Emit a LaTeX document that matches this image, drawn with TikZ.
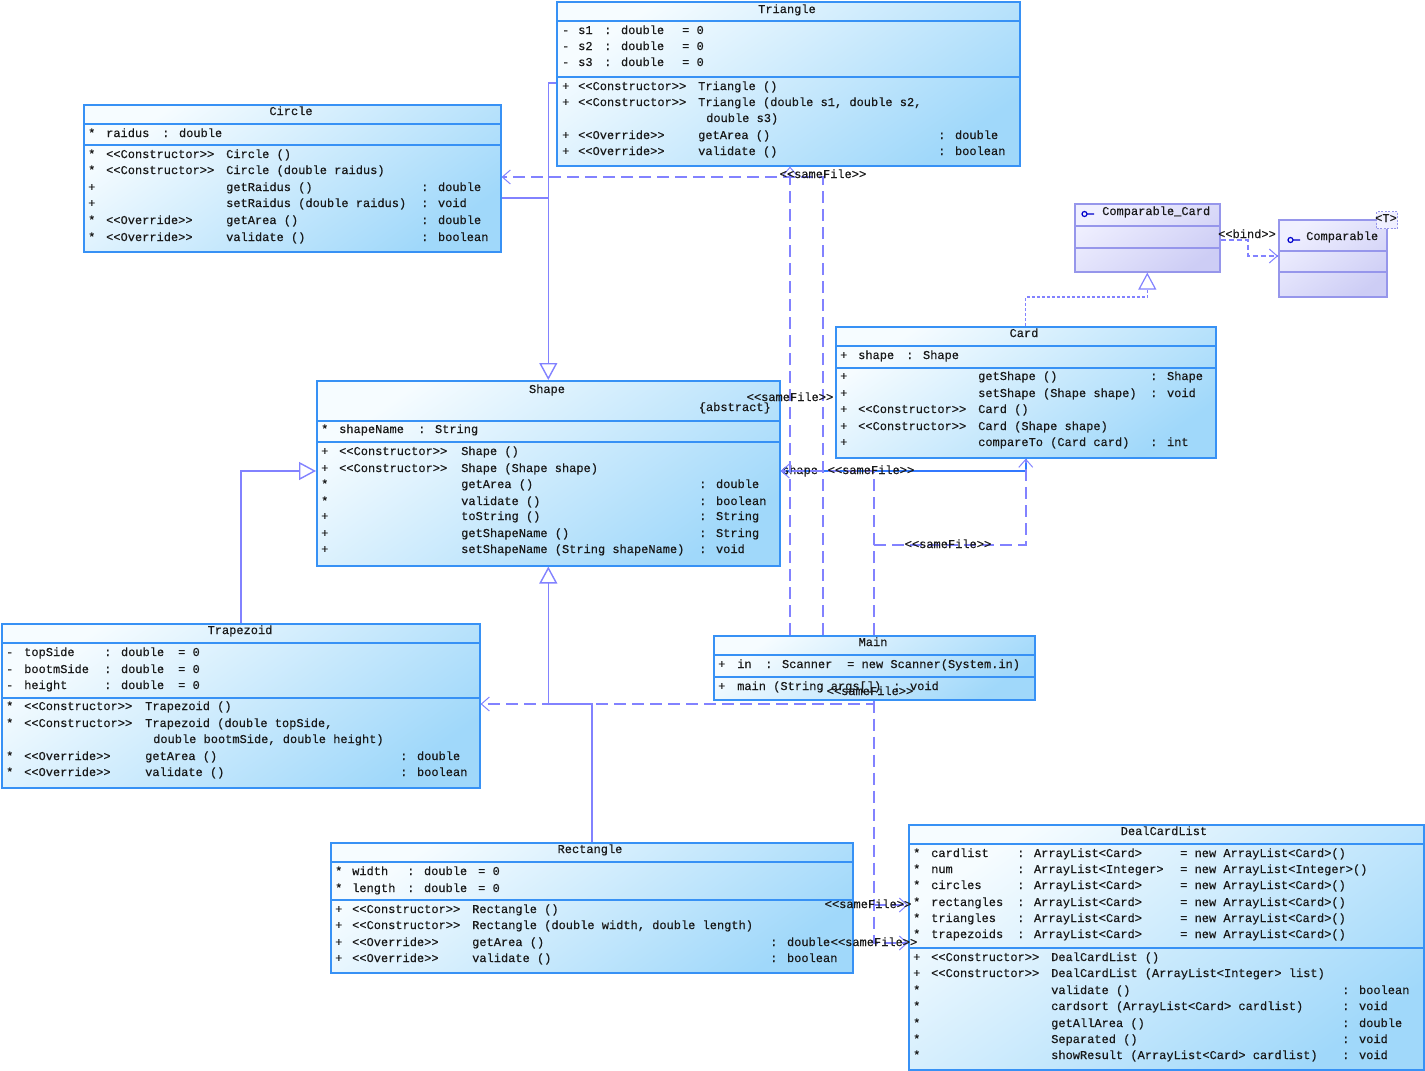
\documentclass[tikz,border=0pt]{standalone}
\usepackage{fontspec}
\newfontfamily\umlmono{Liberation Mono}[FakeBold=0.4]
\usetikzlibrary{arrows.meta}
\definecolor{clsB}{RGB}{55,145,245}
\definecolor{clsT}{RGB}{246,252,255}
\definecolor{clsD}{RGB}{160,216,250}
\definecolor{ifB}{RGB}{150,150,235}
\definecolor{ifT}{RGB}{240,240,255}
\definecolor{ifD}{RGB}{205,205,245}
\definecolor{con}{RGB}{130,130,255}
\definecolor{asc}{RGB}{50,120,255}
\definecolor{ink}{RGB}{25,25,25}
\newcounter{tn}
\newcommand{\tx}[3]{\stepcounter{tn}\node[txt] (t\arabic{tn}) at (#1,#2) {#3};}
\newcommand{\tcn}[3]{\stepcounter{tn}\node[txt,anchor=center] (t\arabic{tn}) at (#1,#2) {#3};}
\newcommand{\tre}[3]{\stepcounter{tn}\node[txt,anchor=east] (t\arabic{tn}) at (#1,#2) {#3};}
\newcommand{\sepl}[2]{\draw[seprule] (#1.west |- 0,#2) -- (#1.east |- 0,#2);}
\newcommand{\isepl}[2]{\draw[iseprule] (#1.west |- 0,#2) -- (#1.east |- 0,#2);}
\begin{document}
\begin{tikzpicture}[x=1pt,y=-1pt,
  txt/.style={font=\umlmono\fontsize{12}{14}\selectfont, text=ink, anchor=west, inner sep=0pt, text height=8.5pt, text depth=2.5pt},
  cls/.style={draw=clsB, line width=1.6pt, top color=clsT, bottom color=clsD, shading angle=35, anchor=north west, inner sep=0pt},
  icls/.style={draw=ifB, line width=1.6pt, top color=ifT, bottom color=ifD, shading angle=35, anchor=north west, inner sep=0pt},
  seprule/.style={draw=clsB, line width=1.5pt},
  iseprule/.style={draw=ifB, line width=1.5pt},
  gen/.style={draw=con, line width=1.4pt, -{Triangle[length=17pt,width=18pt,fill=white]}},
  solidc/.style={draw=con, line width=1.4pt},
  dep/.style={draw=con, line width=1.8pt, dash pattern=on 12pt off 6pt, -{Straight Barb[length=8pt,width=14pt,line width=1pt]}},
  real/.style={draw=con, line width=1.2pt, dash pattern=on 3pt off 2pt, -{Triangle[length=17pt,width=18pt,fill=white,line width=1.2pt]}},
  ascl/.style={draw=asc, line width=1.6pt, -{Straight Barb[length=5pt,width=8pt]}},
  icon/.style={draw=blue!80!black, line width=1.2pt}
]
\useasboundingbox (0,0) rectangle (1425,1071);

% ---------------- class boxes ----------------
\node[cls, minimum width=463pt, minimum height=164pt] (tri) at (556,1) {};
\sepl{tri}{21}\sepl{tri}{77}
\node[cls, minimum width=417pt, minimum height=147pt] (cir) at (83,104) {};
\sepl{cir}{124}\sepl{cir}{145}
\node[icls, minimum width=145pt, minimum height=68pt] (cc) at (1074,203) {};
\isepl{cc}{226}\isepl{cc}{248}
\node[icls, minimum width=108pt, minimum height=77pt] (cmp) at (1278,219) {};
\isepl{cmp}{251}\isepl{cmp}{272}
\node[draw=ifB, fill=ifT, line width=1pt, dash pattern=on 2pt off 1.5pt, minimum width=21pt, minimum height=17pt, anchor=north west, inner sep=0pt] (tpar) at (1376,211) {};
\node[cls, minimum width=380pt, minimum height=131pt] (card) at (835,326) {};
\sepl{card}{346}\sepl{card}{368}
\node[cls, minimum width=463pt, minimum height=185pt] (shp) at (316,380) {};
\sepl{shp}{421}\sepl{shp}{442}
\node[cls, minimum width=478pt, minimum height=164pt] (trap) at (1,623) {};
\sepl{trap}{643}\sepl{trap}{698}
\node[cls, minimum width=321pt, minimum height=64pt] (main) at (713,635) {};
\sepl{main}{655}\sepl{main}{677}
\node[cls, minimum width=522pt, minimum height=130pt] (rect) at (330,842) {};
\sepl{rect}{862}\sepl{rect}{900}
\node[cls, minimum width=515pt, minimum height=245pt] (dcl) at (908,824) {};
\sepl{dcl}{844}\sepl{dcl}{948}

% ---------------- Triangle ----------------
\tcn{787}{10}{Triangle}
\tx{562}{31}{-}\tx{578}{31}{s1}\tx{604}{31}{: double}\tx{682}{31}{= 0}
\tx{562}{47}{-}\tx{578}{47}{s2}\tx{604}{47}{: double}\tx{682}{47}{= 0}
\tx{562}{63}{-}\tx{578}{63}{s3}\tx{604}{63}{: double}\tx{682}{63}{= 0}
\tx{562}{87}{+}\tx{578}{87}{<<Constructor>>}\tx{698}{87}{Triangle ()}
\tx{562}{103}{+}\tx{578}{103}{<<Constructor>>}\tx{698}{103}{Triangle (double s1, double s2,}
\tx{706}{119}{double s3)}
\tx{562}{136}{+}\tx{578}{136}{<<Override>>}\tx{698}{136}{getArea ()}\tx{938}{136}{: double}
\tx{562}{152}{+}\tx{578}{152}{<<Override>>}\tx{698}{152}{validate ()}\tx{938}{152}{: boolean}

% ---------------- Circle ----------------
\tcn{291}{112}{Circle}
\tx{88}{134}{*}\tx{106}{134}{raidus}\tx{162}{134}{: double}
\tx{88}{155}{*}\tx{106}{155}{<<Constructor>>}\tx{226}{155}{Circle ()}
\tx{88}{171}{*}\tx{106}{171}{<<Constructor>>}\tx{226}{171}{Circle (double raidus)}
\tx{88}{188}{+}\tx{226}{188}{getRaidus ()}\tx{421}{188}{: double}
\tx{88}{204}{+}\tx{226}{204}{setRaidus (double raidus)}\tx{421}{204}{: void}
\tx{88}{221}{*}\tx{106}{221}{<<Override>>}\tx{226}{221}{getArea ()}\tx{421}{221}{: double}
\tx{88}{238}{*}\tx{106}{238}{<<Override>>}\tx{226}{238}{validate ()}\tx{421}{238}{: boolean}

% ---------------- Comparable_Card / Comparable ----------------
\draw[icon] (1084.5,214) circle (2.5pt) (1087,214) -- (1094,214);
\tx{1102}{212}{Comparable\_Card}
\draw[icon] (1290.5,240) circle (2.5pt) (1293,240) -- (1300,240);
\tx{1306}{237}{Comparable}
\tcn{1386}{219}{<T>}

% ---------------- Card ----------------
\tcn{1024}{334}{Card}
\tx{840}{356}{+}\tx{858}{356}{shape}\tx{906}{356}{: Shape}
\tx{840}{377}{+}\tx{978}{377}{getShape ()}\tx{1150}{377}{: Shape}
\tx{840}{394}{+}\tx{978}{394}{setShape (Shape shape)}\tx{1150}{394}{: void}
\tx{840}{410}{+}\tx{858}{410}{<<Constructor>>}\tx{978}{410}{Card ()}
\tx{840}{427}{+}\tx{858}{427}{<<Constructor>>}\tx{978}{427}{Card (Shape shape)}
\tx{840}{443}{+}\tx{978}{443}{compareTo (Card card)}\tx{1150}{443}{: int}

% ---------------- Shape ----------------
\tcn{547}{390}{Shape}
\tre{771}{408}{\{abstract\}}
\tx{321}{430}{*}\tx{339}{430}{shapeName}\tx{418}{430}{: String}
\tx{321}{452}{+}\tx{339}{452}{<<Constructor>>}\tx{461}{452}{Shape ()}
\tx{321}{469}{+}\tx{339}{469}{<<Constructor>>}\tx{461}{469}{Shape (Shape shape)}
\tx{321}{485}{*}\tx{461}{485}{getArea ()}\tx{699}{485}{: double}
\tx{321}{502}{*}\tx{461}{502}{validate ()}\tx{699}{502}{: boolean}
\tx{321}{517}{+}\tx{461}{517}{toString ()}\tx{699}{517}{: String}
\tx{321}{534}{+}\tx{461}{534}{getShapeName ()}\tx{699}{534}{: String}
\tx{321}{550}{+}\tx{461}{550}{setShapeName (String shapeName)}\tx{699}{550}{: void}

% ---------------- Trapezoid ----------------
\tcn{240}{631}{Trapezoid}
\tx{6}{653}{-}\tx{24}{653}{topSide}\tx{104}{653}{: double}\tx{178}{653}{= 0}
\tx{6}{670}{-}\tx{24}{670}{bootmSide}\tx{104}{670}{: double}\tx{178}{670}{= 0}
\tx{6}{686}{-}\tx{24}{686}{height}\tx{104}{686}{: double}\tx{178}{686}{= 0}
\tx{6}{707}{*}\tx{24}{707}{<<Constructor>>}\tx{145}{707}{Trapezoid ()}
\tx{6}{724}{*}\tx{24}{724}{<<Constructor>>}\tx{145}{724}{Trapezoid (double topSide,}
\tx{153}{740}{double bootmSide, double height)}
\tx{6}{757}{*}\tx{24}{757}{<<Override>>}\tx{145}{757}{getArea ()}\tx{400}{757}{: double}
\tx{6}{773}{*}\tx{24}{773}{<<Override>>}\tx{145}{773}{validate ()}\tx{400}{773}{: boolean}

% ---------------- Main ----------------
\tcn{873}{643}{Main}
\tx{718}{665}{+}\tx{737}{665}{in}\tx{765}{665}{: Scanner}\tx{847}{665}{= new Scanner(System.in)}
\tx{718}{687}{+}\tx{737}{687}{main (String args[])}\tx{893}{687}{: void}

% ---------------- Rectangle ----------------
\tcn{590}{850}{Rectangle}
\tx{335}{872}{*}\tx{352}{872}{width}\tx{407}{872}{: double}\tx{478}{872}{= 0}
\tx{335}{889}{*}\tx{352}{889}{length}\tx{407}{889}{: double}\tx{478}{889}{= 0}
\tx{335}{910}{+}\tx{352}{910}{<<Constructor>>}\tx{472}{910}{Rectangle ()}
\tx{335}{926}{+}\tx{352}{926}{<<Constructor>>}\tx{472}{926}{Rectangle (double width, double length)}
\tx{335}{943}{+}\tx{352}{943}{<<Override>>}\tx{472}{943}{getArea ()}\tx{770}{943}{: double}
\tx{335}{959}{+}\tx{352}{959}{<<Override>>}\tx{472}{959}{validate ()}\tx{770}{959}{: boolean}

% ---------------- DealCardList ----------------
\tcn{1164}{832}{DealCardList}
\tx{913}{854}{*}\tx{931}{854}{cardlist}\tx{1017}{854}{: ArrayList<Card>}\tx{1180}{854}{= new ArrayList<Card>()}
\tx{913}{870}{*}\tx{931}{870}{num}\tx{1017}{870}{: ArrayList<Integer>}\tx{1180}{870}{= new ArrayList<Integer>()}
\tx{913}{886}{*}\tx{931}{886}{circles}\tx{1017}{886}{: ArrayList<Card>}\tx{1180}{886}{= new ArrayList<Card>()}
\tx{913}{903}{*}\tx{931}{903}{rectangles}\tx{1017}{903}{: ArrayList<Card>}\tx{1180}{903}{= new ArrayList<Card>()}
\tx{913}{919}{*}\tx{931}{919}{triangles}\tx{1017}{919}{: ArrayList<Card>}\tx{1180}{919}{= new ArrayList<Card>()}
\tx{913}{935}{*}\tx{931}{935}{trapezoids}\tx{1017}{935}{: ArrayList<Card>}\tx{1180}{935}{= new ArrayList<Card>()}
\tx{913}{958}{+}\tx{931}{958}{<<Constructor>>}\tx{1051}{958}{DealCardList ()}
\tx{913}{974}{+}\tx{931}{974}{<<Constructor>>}\tx{1051}{974}{DealCardList (ArrayList<Integer> list)}
\tx{913}{991}{*}\tx{1051}{991}{validate ()}\tx{1342}{991}{: boolean}
\tx{913}{1007}{*}\tx{1051}{1007}{cardsort (ArrayList<Card> cardlist)}\tx{1342}{1007}{: void}
\tx{913}{1024}{*}\tx{1051}{1024}{getAllArea ()}\tx{1342}{1024}{: double}
\tx{913}{1040}{*}\tx{1051}{1040}{Separated ()}\tx{1342}{1040}{: void}
\tx{913}{1056}{*}\tx{1051}{1056}{showResult (ArrayList<Card> cardlist)}\tx{1342}{1056}{: void}

% ---------------- generalizations ----------------
\draw[gen] (tri.west |- 0,83) -| (shp.north);
\draw[solidc] (cir.east |- 0,198) -- (shp.north |- 0,198);
\draw[gen] (trap.north) |- (shp.west |- 0,471);
\draw[gen] (rect.north) |- (shp.south |- 0,704) -- (shp.south);
\draw[real] (card.north) |- (cc.south |- 0,297) -- (cc.south);

% ---------------- bind ----------------
\coordinate (bk) at (1248,240);
\draw[dep, line width=1.2pt, dash pattern=on 5pt off 3pt] (cc.east |- bk) -- (bk) |- (cmp.west |- 0,256);
\tcn{1247}{235}{<<bind>>}

% ---------------- association ----------------
\draw[ascl] (card.south) -- (card.south |- 0,471) -- (shp.east |- 0,471);
\tcn{800}{471}{shape}

% ---------------- dependencies ----------------
\draw[dep] (main.north -| 823,0) |- (cir.east |- 0,177);
\draw[dep] (main.north -| 790,0) -- (tri.south -| 790,0);
\draw[dep] (main.north) |- (shp.east |- 0,471);
\draw[dep] (main.north) |- (card.south |- 0,545) -- (card.south);
\draw[dep] (main.south) |- (trap.east |- 0,704);
\draw[dep] (main.south) |- (dcl.west |- 0,943);
\draw[dep] (main.south |- 0,905) -- (dcl.west |- 0,905);

\tcn{823}{175}{<<sameFile>>}
\tcn{790}{398}{<<sameFile>>}
\tcn{871}{471}{<<sameFile>>}
\tcn{948}{545}{<<sameFile>>}
\tcn{870}{692}{<<sameFile>>}
\tcn{868}{905}{<<sameFile>>}
\tcn{874}{943}{<<sameFile>>}
\end{tikzpicture}
\end{document}
